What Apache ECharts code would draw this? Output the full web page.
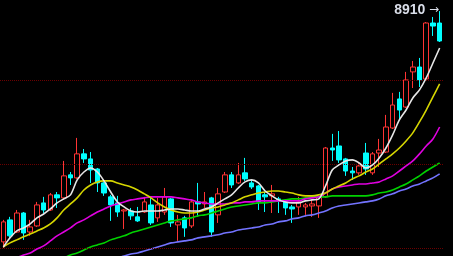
<!DOCTYPE html>
<html>
<head>
<meta charset="utf-8">
<script src="https://cdn.jsdelivr.net/npm/echarts@6/dist/echarts.min.js"></script>
<style>
html,body{margin:0;padding:0;background:#000;}
#c{width:453px;height:256px;}
</style>
</head>
<body>
<div id="c"></div>
<script>
const categories = ['1','2','3','4','5','6','7','8','9','10','11','12','13','14','15','16','17','18','19','20','21','22','23','24','25','26','27','28','29','30','31','32','33','34','35','36','37','38','39','40','41','42','43','44','45','46','47','48','49','50','51','52','53','54','55','56','57','58','59','60','61','62','63','64','65','66'];
const open = [7536,7667,7595,7708,7595,7631,7768,7726,7816,7798,7935,7917,8060,8030,7970,7887,7804,7768,7720,7720,7685,7714,7756,7679,7714,7792,7637,7679,7631,7774,7762,7798,7697,7833,7935,7887,7947,7887,7869,7816,7810,7792,7774,7744,7744,7744,7750,7750,7804,8095,8107,8030,7958,7947,8065,7947,8065,8071,8214,8387,8339,8548,8577,8506,8839,8839];
const close = [7655,7572,7708,7589,7625,7756,7726,7816,7798,7929,7917,8060,8030,7964,7887,7827,7756,7714,7726,7691,7661,7774,7649,7756,7804,7649,7655,7619,7774,7762,7774,7595,7822,7935,7875,7935,7911,7863,7774,7804,7822,7780,7738,7732,7774,7756,7762,7804,8095,8083,8024,7958,7947,7988,7970,8060,8083,8220,8351,8321,8500,8577,8500,8839,8821,8732];
const low = [7500,7560,7589,7548,7572,7625,7708,7720,7738,7786,7875,7911,8006,7887,7833,7810,7661,7685,7613,7667,7655,7708,7637,7655,7697,7625,7542,7566,7619,7685,7738,7566,7649,7827,7857,7881,7899,7851,7726,7714,7708,7708,7697,7649,7697,7697,7685,7679,7798,8018,8006,7929,7905,7935,7935,7935,7982,8065,8208,8262,8333,8452,8458,8500,8762,8726];
const high = [7667,7685,7726,7714,7667,7774,7804,7827,7833,8018,7952,8155,8089,8071,7976,7893,7816,7810,7732,7738,7744,7804,7804,7798,7857,7798,7697,7691,7786,7887,7833,7804,7857,7952,7952,8006,8036,7905,7875,7833,7875,7804,7786,7756,7804,7768,7786,7810,8101,8179,8196,8036,7982,8012,8125,8071,8149,8292,8423,8429,8548,8613,8631,8845,8875,8910];
const ma5 = [7506,7560,7601,7619,7643,7679,7702,7732,7768,7792,7816,7905,7952,7976,7952,7899,7833,7774,7744,7720,7714,7720,7720,7720,7726,7732,7732,7726,7720,7720,7732,7744,7768,7792,7816,7857,7893,7905,7887,7839,7810,7786,7774,7768,7768,7780,7786,7792,7869,7964,7994,8018,8024,8006,7976,7994,8036,8095,8173,8262,8321,8393,8441,8512,8601,8690];
const ma10 = [7506,7530,7548,7566,7583,7601,7619,7643,7679,7726,7762,7798,7845,7875,7893,7899,7899,7887,7875,7863,7845,7822,7798,7768,7744,7726,7714,7708,7708,7714,7726,7738,7744,7756,7768,7786,7804,7816,7827,7833,7839,7839,7833,7827,7816,7810,7810,7816,7827,7851,7869,7887,7911,7929,7952,7970,8000,8030,8060,8095,8137,8185,8250,8321,8399,8476];
const ma20 = [7399,7417,7441,7458,7470,7494,7512,7542,7572,7595,7619,7649,7667,7691,7714,7732,7750,7762,7774,7786,7792,7798,7804,7804,7804,7804,7798,7792,7786,7774,7768,7762,7762,7762,7768,7768,7774,7774,7780,7780,7780,7780,7780,7780,7780,7792,7798,7804,7827,7851,7863,7869,7875,7881,7881,7887,7893,7911,7929,7958,7988,8018,8060,8107,8149,8220];
const ma60 = [null,null,null,null,null,null,null,null,7429,7441,7458,7470,7488,7506,7518,7530,7548,7560,7572,7589,7601,7613,7625,7637,7649,7661,7667,7673,7679,7691,7697,7708,7720,7732,7744,7750,7756,7762,7768,7768,7774,7780,7786,7792,7792,7798,7804,7804,7804,7810,7810,7810,7810,7810,7810,7816,7827,7833,7845,7863,7881,7905,7929,7958,7982,8006];
const ma120 = [null,null,null,null,null,null,null,null,null,null,null,null,null,null,null,null,null,7441,7452,7464,7470,7482,7494,7506,7518,7530,7536,7542,7548,7560,7566,7572,7578,7589,7595,7607,7613,7619,7625,7637,7643,7655,7661,7673,7679,7691,7697,7708,7720,7738,7750,7756,7762,7768,7774,7780,7792,7810,7822,7839,7851,7869,7881,7899,7917,7941];
const gridLevels = [8500, 8000, 7500];
const peakLabel = '8910';

const candleData = open.map((o, i) => [o, close[i], low[i], high[i]]);
const chart = echarts.init(document.getElementById('c'), null, {renderer: 'canvas'});

function maLine(name, data, color, z) {
  return {
    name: name, type: 'line', data: data, showSymbol: false, smooth: 0.3,
    lineStyle: {color: color, width: 1.6}, z: z, silent: true, animation: false
  };
}

chart.setOption({
  backgroundColor: '#000',
  animation: false,
  grid: {left: -1.5, right: 10, top: 0, bottom: 0},
  xAxis: {
    type: 'category', data: categories, boundaryGap: true,
    axisLine: {show: false}, axisTick: {show: false}, axisLabel: {show: false}, splitLine: {show: false}
  },
  yAxis: {
    type: 'value', min: 7452, max: 8976, show: false, splitLine: {show: false}
  },
  series: [
    {
      name: 'K', type: 'candlestick', data: candleData, barWidth: 5, z: 2,
      itemStyle: {
        color: '#000', color0: '#00ffff',
        borderColor: '#ff3434', borderColor0: '#00ffff', borderWidth: 1
      },
      markLine: {
        silent: true, symbol: 'none', animation: false,
        label: {show: false},
        lineStyle: {color: '#6a0000', type: [1, 1], width: 1},
        data: gridLevels.map(v => ({yAxis: v}))
      },
      markPoint: {
        symbol: 'rect', symbolSize: [1, 1], animation: false,
        itemStyle: {color: 'rgba(0,0,0,0)'},
        data: [{coord: [categories[65], 8910], value: 8910}],
        label: {
          show: true, position: 'left', distance: 0, offset: [0, -1],
          formatter: '{v|' + peakLabel + '}{a| \u2192}',
          rich: {
            v: {color: '#d9dde8', fontSize: 14, fontWeight: 'bold', fontFamily: 'Liberation Sans'},
            a: {color: '#d9dde8', fontSize: 12, fontFamily: 'DejaVu Sans'}
          }
        }
      }
    },
    maLine('MA120', ma120, '#7373ff', 3),
    maLine('MA60', ma60, '#00d200', 4),
    maLine('MA20', ma20, '#e000e0', 5),
    maLine('MA10', ma10, '#d6d600', 6),
    maLine('MA5', ma5, '#e6e6e6', 7)
  ]
});
</script>
</body>
</html>
